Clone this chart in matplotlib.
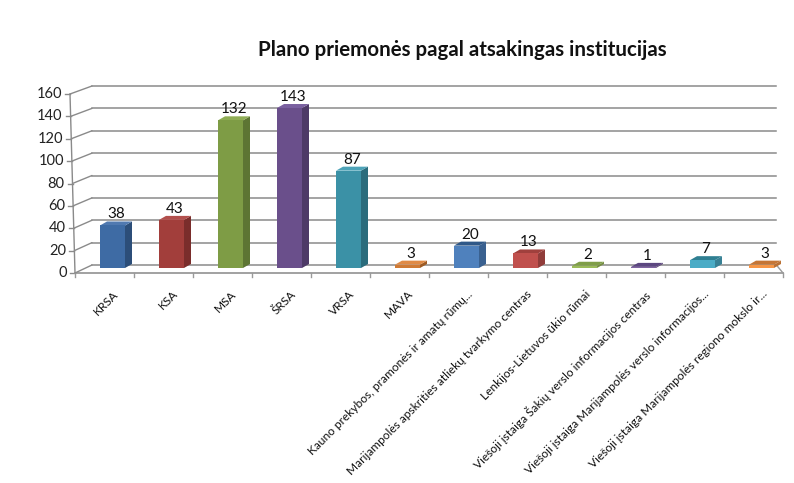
import matplotlib
matplotlib.use("Agg")
import matplotlib.pyplot as plt
import matplotlib.transforms as mtransforms
from matplotlib.patches import Polygon, Rectangle

categories = ["KRSA", "KSA", "MSA", "ŠRSA", "VRSA", "MAVA",
              "Kauno prekybos, pramonės ir amatų rūmų...",
              "Marijampolės apskrities atliekų tvarkymo centras",
              "Lenkijos-Lietuvos ūkio rūmai",
              "Viešoji įstaiga Šakių verslo informacijos centras",
              "Viešoji įstaiga Marijampolės verslo informacijos...",
              "Viešoji įstaiga Marijampolės regiono mokslo ir..."]
values = [38, 43, 132, 143, 87, 3, 20, 13, 2, 1, 7, 3]
yticks = [0, 20, 40, 60, 80, 100, 120, 140, 160]
title = "Plano priemonės pagal atsakingas institucijas"

front_colors = ["#3E6BA4", "#A23E3B", "#7E9C45", "#6A4F8B", "#3B91A6", "#D07A33",
                "#4F81BD", "#C0504D", "#9BBB59", "#8064A2", "#4BACC6", "#F79646"]
side_colors = ["#2C4E79", "#7A2D2B", "#5D7533", "#4E3A67", "#2B6C7C", "#9E5B24",
               "#3A6190", "#903C3A", "#748C42", "#604B79", "#388195", "#BA7034"]
top_colors = ["#5079B0", "#B24F4C", "#8FAD55", "#7A60A0", "#4DA3B8", "#E08A45",
              "#2F5888", "#A0403D", "#7F9E48", "#5C4780", "#2F7F92", "#C57535"]

plt.rcParams['font.family'] = ['Lato', 'DejaVu Sans']

W, H = 794, 483
fig = plt.figure(figsize=(W / 100, H / 100), dpi=100)
ax_l, ax_r, ax_b, ax_t = 75, 783, 273, 94
ax = fig.add_axes([ax_l / W, (H - ax_b) / H, (ax_r - ax_l) / W, (ax_b - ax_t) / H])
n = len(categories)
ax.set_xlim(0, n)
ax.set_ylim(0, 160)
ax.patch.set_visible(False)
for s in ax.spines.values():
    s.set_visible(False)
ax.set_xticks([])
ax.set_yticks([])

ppx = (ax_r - ax_l) / n            # pixels per category
ppy = (ax_b - ax_t) / 160.0        # pixels per unit
grid_c = "#8a8a8a"

# back wall gridlines
back = mtransforms.offset_copy(ax.transData, fig=fig, x=17, y=8, units='dots')
back_end = n - 0.4
for v in yticks:
    ax.plot([0, back_end], [v, v], color=grid_c, lw=1.1, transform=back, clip_on=False, zorder=1)
    x0 = -(v / 160.0) * 5 / ppx
    ax.annotate("", xy=(0, v), xycoords=back, xytext=(x0, v), textcoords='data',
                arrowprops=dict(arrowstyle='-', color=grid_c, lw=1.0, shrinkA=0, shrinkB=0))
    ax.plot([x0, x0 - 5 / ppx], [v, v], color=grid_c, lw=1.0, clip_on=False)
    ax.text(x0 - 8 / ppx, v, str(v), ha='right', va='center', fontsize=10.5, color="#222222")
# front y axis (slightly slanted)
ax.plot([0, -5 / ppx], [0, 160], color=grid_c, lw=1.0, clip_on=False)
# front x axis
ax.plot([0, n], [0, 0], color="#9a9a9a", lw=1.3, clip_on=False, zorder=2)
for i in range(n + 1):
    ax.plot([i, i], [0, -4 / ppy], color="#9a9a9a", lw=1.0, clip_on=False)
# right floor edge
ax.annotate("", xy=(back_end, 0), xycoords=back, xytext=(n, 0), textcoords='data',
            arrowprops=dict(arrowstyle='-', color="#9a9a9a", lw=1.0, shrinkA=0, shrinkB=0))

# bars (pseudo-3D)
bar_t = mtransforms.offset_copy(ax.transData, fig=fig, x=8, y=5, units='dots')
bw = 25 / ppx
ddx, ddy = 7 / ppx, 4 / ppy
for i, v in enumerate(values):
    x0 = i + 0.5 - bw / 2
    x1 = x0 + bw
    ax.add_patch(Polygon([(x1, 0), (x1 + ddx, ddy), (x1 + ddx, v + ddy), (x1, v)],
                         closed=True, facecolor=side_colors[i], edgecolor='none',
                         transform=bar_t, zorder=3, clip_on=False))
    ax.add_patch(Polygon([(x0, v), (x1, v), (x1 + ddx, v + ddy), (x0 + ddx, v + ddy)],
                         closed=True, facecolor=top_colors[i], edgecolor='none',
                         transform=bar_t, zorder=3, clip_on=False))
    ax.add_patch(Rectangle((x0, 0), bw, v, facecolor=front_colors[i], edgecolor='none',
                           transform=bar_t, zorder=4, clip_on=False))
    ax.text(i + 0.5 + ddx / 2, v + ddy, str(v), transform=bar_t, ha='center', va='bottom',
            fontsize=11, color="#111111", zorder=5)

# category labels
for i, lab in enumerate(categories):
    ax.annotate(lab, xy=(i + 0.5, 0), xycoords='data', xytext=(6, -11), textcoords='offset points',
                rotation=45, rotation_mode='anchor', ha='right', va='top', fontsize=8.6,
                color="#111111")

fig.text(462 / W, 1 - 50 / H, title, ha='center', va='center', fontsize=14.8,
         fontweight='bold', color="#111111")

fig.savefig("out.png", dpi=100)
